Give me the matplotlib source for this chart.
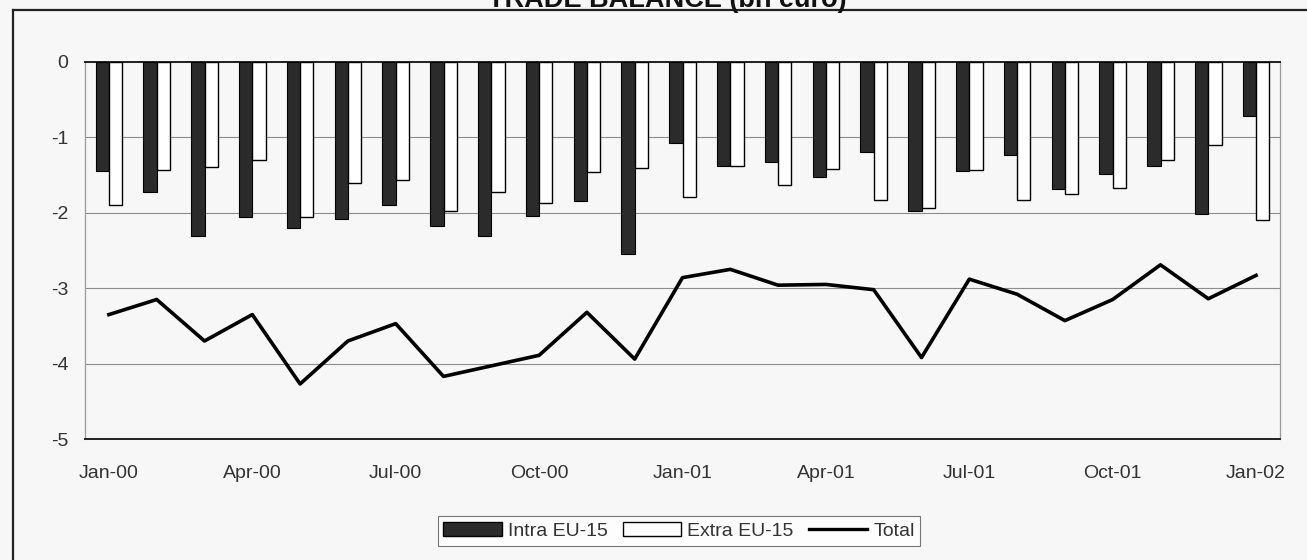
"""Trade balance chart: monthly intra/extra EU-15 balances with the total line."""

import matplotlib

matplotlib.use("Agg")
import matplotlib.pyplot as plt
from matplotlib.lines import Line2D
from matplotlib.patches import Patch

plt.rcParams["font.family"] = ["Liberation Sans", "DejaVu Sans"]

# monthly values, Jan-00 .. Jan-02 (bn euro)
months = [
    "Jan-00", "Feb-00", "Mar-00", "Apr-00", "May-00", "Jun-00", "Jul-00", "Aug-00",
    "Sep-00", "Oct-00", "Nov-00", "Dec-00", "Jan-01", "Feb-01", "Mar-01", "Apr-01",
    "May-01", "Jun-01", "Jul-01", "Aug-01", "Sep-01", "Oct-01", "Nov-01", "Dec-01",
    "Jan-02",
]
intra_eu15 = [
    -1.45, -1.73, -2.31, -2.06, -2.20, -2.08, -1.89, -2.17, -2.31, -2.04, -1.85, -2.54,
    -1.07, -1.38, -1.32, -1.52, -1.20, -1.97, -1.44, -1.23, -1.69, -1.48, -1.38, -2.02,
    -0.72,
]
extra_eu15 = [
    -1.90, -1.43, -1.39, -1.30, -2.06, -1.60, -1.56, -1.98, -1.72, -1.87, -1.46, -1.40,
    -1.79, -1.38, -1.63, -1.42, -1.83, -1.94, -1.43, -1.83, -1.75, -1.67, -1.30, -1.10,
    -2.10,
]
total = [
    -3.35, -3.15, -3.70, -3.35, -4.27, -3.70, -3.47, -4.17, -4.03, -3.89, -3.32, -3.94,
    -2.86, -2.75, -2.96, -2.95, -3.02, -3.92, -2.88, -3.08, -3.43, -3.15, -2.69, -3.14,
    -2.83,
]
yticks = [0, -1, -2, -3, -4, -5]

W, H = 1307, 560
BG = "#f7f7f7"
DARK = "#2b2b2b"
TEXT = "#333333"
FS = 14

fig = plt.figure(figsize=(W / 100, H / 100), dpi=100, facecolor=BG)
ax = fig.add_axes([85 / W, 1 - 439 / H, (1280 - 85) / W, (439 - 62) / H])
ax.set_facecolor(BG)

x = list(range(len(months)))
width = 0.28
ax.bar([i - width / 2 for i in x], intra_eu15, width, color=DARK, edgecolor="black",
       linewidth=0.8, zorder=3)
ax.bar([i + width / 2 for i in x], extra_eu15, width, color="white", edgecolor="black",
       linewidth=1.0, zorder=3)
ax.plot(x, total, color="black", linewidth=2.6, zorder=4)

ax.set_xlim(-0.5, len(months) - 0.5)
ax.set_ylim(-5, 0)
ax.set_yticks(yticks)
ax.set_yticklabels([str(v) for v in yticks])
ax.set_xticks(x[::3])
ax.set_xticklabels(months[::3])
ax.tick_params(length=0, labelsize=FS, labelcolor=TEXT)
ax.tick_params(axis="x", pad=19)
ax.tick_params(axis="y", pad=12)
ax.yaxis.grid(True, color="#8c8c8c", linewidth=0.8)
ax.set_axisbelow(True)
for side in ("top", "bottom"):
    ax.spines[side].set_color("#222222")
    ax.spines[side].set_linewidth(1.4)
for side in ("left", "right"):
    ax.spines[side].set_color("#9a9a9a")
    ax.spines[side].set_linewidth(0.9)

handles = [
    Patch(facecolor=DARK, edgecolor="black", label="Intra EU-15"),
    Patch(facecolor="white", edgecolor="black", label="Extra EU-15"),
    Line2D([0], [0], color="black", linewidth=2.4, label="Total"),
]
leg = fig.legend(handles=handles, loc="center", bbox_to_anchor=(679 / W, 1 - 531 / H),
                 ncol=3, fontsize=FS, frameon=True, fancybox=False, handlelength=3.0,
                 handleheight=0.75, handletextpad=0.3, columnspacing=0.8, borderpad=0.3,
                 borderaxespad=0)
leg.get_frame().set_edgecolor("#555555")
leg.get_frame().set_linewidth(0.8)
leg.get_frame().set_facecolor("white")
for t in leg.get_texts():
    t.set_color(TEXT)

# outer chart frame (left and top edges visible in the scan)
fig.add_artist(Line2D([13 / W, 13 / W], [0, 1 - 10 / H], color="#222222",
                      linewidth=1.6, transform=fig.transFigure))
fig.add_artist(Line2D([13 / W, 1], [1 - 10 / H, 1 - 10 / H], color="#222222",
                      linewidth=1.6, transform=fig.transFigure))
# title sits above the frame and is cut by the top edge, as in the scan
fig.text(667 / W, 1 - 7 / H, "TRADE BALANCE (bn euro)", ha="center", va="baseline",
         fontsize=19.5, fontweight="bold", color="#111111")

fig.savefig("out.png", dpi=100, facecolor=BG)
